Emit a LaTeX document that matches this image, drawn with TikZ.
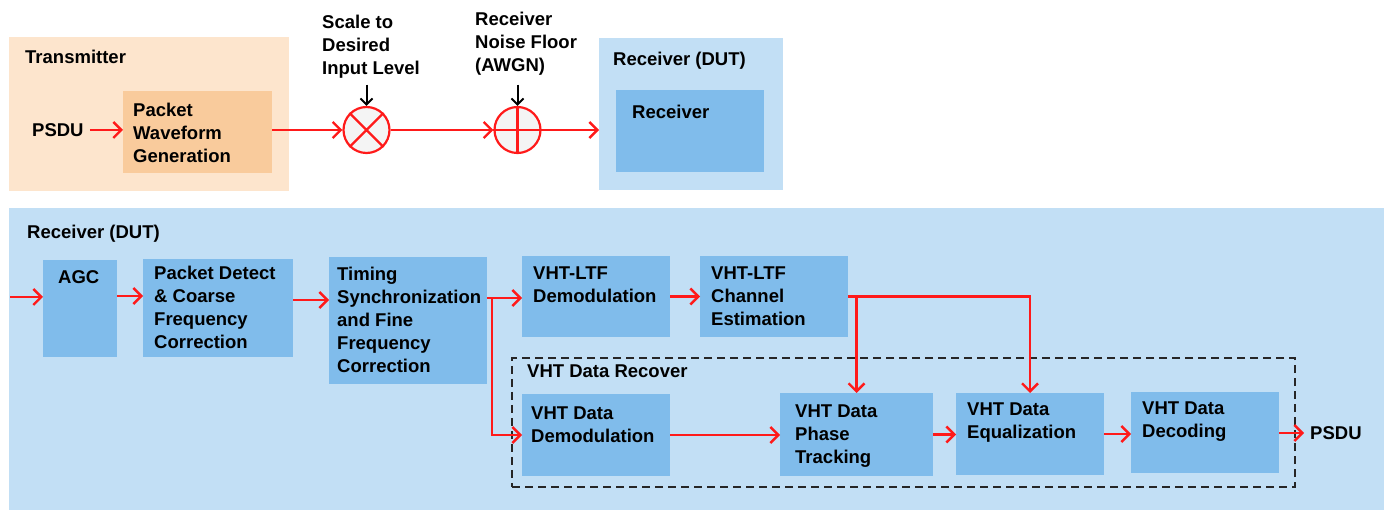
\documentclass[tikz,border=0pt]{standalone}
\usepackage{fontspec}
\setmainfont{Liberation Sans}
\usetikzlibrary{arrows.meta,calc}
\definecolor{Txbg}{HTML}{FDE5CD}
\definecolor{Txblk}{HTML}{F9CB9C}
\definecolor{Rxbg}{HTML}{C2DFF5}
\definecolor{Rxblk}{HTML}{80BCEB}
\definecolor{Sig}{HTML}{FF1A1A}
\definecolor{Mixfill}{HTML}{F4F4F4}
\tikzset{
  area/.style={rectangle, inner sep=0pt, outer sep=0pt, anchor=north west},
  blk/.style={area, fill=Rxblk},
  txt/.style={inner sep=0pt, anchor=north west, align=left, font=\fontsize{18.5}{23}\selectfont\bfseries},
  sig/.style={Sig, line width=2.4pt, -{Straight Barb[length=8pt, width=16pt]}},
  ctl/.style={black, line width=2pt, -{Straight Barb[length=6pt, width=12pt]}},
  mix/.style={circle, draw=Sig, line width=2.2pt, fill=Mixfill, minimum size=46pt, inner sep=0pt},
  recov/.style={area, draw=black!85, line width=2.6pt, dash pattern=on 8pt off 5pt},
}
% name, x0, y0, x1, y1, style
\newcommand{\area}[6]{%
  \node[#6, minimum width={#4-#2}, minimum height={#5-#3}] (#1) at (#2,#3) {};}

\begin{document}
\begin{tikzpicture}[x=1pt, y=-1pt]
  \useasboundingbox (0,0) rectangle (1384,510);
  % top row: transmitter, scaling, noise, receiver
  \area{tx}{9}{37}{289}{191}{area, fill=Txbg}
  \area{pwg}{123}{91}{272}{173}{area, fill=Txblk}
  \area{rxtop}{599}{38}{783}{190}{area, fill=Rxbg}
  \area{rxin}{616}{90}{764}{172}{blk}
  \node[mix] (mul) at (366.5,130) {};
  \node[mix] (add) at (517.5,130) {};
  \draw[Sig, line width=2.2pt] (mul.north west) -- (mul.south east) (mul.north east) -- (mul.south west);
  \draw[Sig, line width=2.2pt] (add.north) -- (add.south) (add.west) -- (add.east);
  \node[txt] (txT) at (25,50) {Transmitter};
  \node[txt] (pwgT) at (133,103) {Packet\\Waveform\\Generation};
  \node[txt] (rxtopT) at (613,52) {Receiver (DUT)};
  \node[txt] (rxinT) at (632,105) {Receiver};
  \node[txt] (scl) at (322,15) {Scale to\\Desired\\Input Level};
  \node[txt] (nse) at (475,12) {Receiver\\Noise Floor\\(AWGN)};
  \node[txt, anchor=west] (psduI) at (32,130) {PSDU};
  \draw[sig, shorten <=6pt] (psduI.east) -- (psduI.east -| pwg.west);
  \draw[sig] (pwg.east |- mul.west) -- (mul.west);
  \draw[sig] (mul.east) -- (add.west);
  \draw[sig] (add.east) -- (add.east -| rxtop.west);
  \draw[ctl, shorten <=6pt] (scl.south -| mul.north) -- (mul.north);
  \draw[ctl, shorten <=9pt] (nse.south -| add.north) -- (add.north);
  % bottom: receiver chain
  \area{rx}{9}{208}{1385}{511}{area, fill=Rxbg}
  \area{agc}{43}{260}{117}{357}{blk}
  \area{pdet}{143}{259}{293}{357}{blk}
  \area{tsync}{329}{257}{487}{384}{blk}
  \area{ltfd}{522}{256}{670}{337}{blk}
  \area{chest}{700}{256}{848}{337}{blk}
  \area{recover}{512}{358}{1295}{487}{recov}
  \area{ddem}{522}{394}{670}{476}{blk}
  \area{ptrk}{780}{393}{933}{476}{blk}
  \area{equ}{956}{393}{1104}{475}{blk}
  \area{dec}{1131}{392}{1279}{473}{blk}
  \node[txt] (rxT) at (27,225) {Receiver (DUT)};
  \node[txt] (agcT) at (58,270) {AGC};
  \node[txt] (pdetT) at (154,266) {Packet Detect\\\& Coarse\\Frequency\\Correction};
  \node[txt] (tsyncT) at (337,267) {Timing\\Synchronization\\and Fine\\Frequency\\Correction};
  \node[txt] (ltfdT) at (533,267) {VHT-LTF\\Demodulation};
  \node[txt] (chestT) at (711,267) {VHT-LTF\\Channel\\Estimation};
  \node[txt] (recT) at (527,365) {VHT Data Recover};
  \node[txt] (ddemT) at (531,407) {VHT Data\\Demodulation};
  \node[txt] (ptrkT) at (795,405) {VHT Data\\Phase\\Tracking};
  \node[txt] (equT) at (967,403) {VHT Data\\Equalization};
  \node[txt] (decT) at (1142,402) {VHT Data\\Decoding};
  \node[txt, anchor=west] (psduO) at (1310,433) {PSDU};
  \coordinate (in) at (10,297);
  \coordinate (br) at (492,298);
  \draw[sig] (in) -- (in -| agc.west);
  \draw[sig] (agc.east |- 0,296) -- (pdet.west |- 0,296);
  \draw[sig] (pdet.east |- 0,300) -- (tsync.west |- 0,300);
  \draw[sig] (tsync.east |- br) -- (br -| ltfd.west);
  \draw[sig] (br) |- (ddem.west);
  \draw[sig] (ltfd.east) -- (chest.west);
  \draw[sig] (chest.east) -| (equ.north);
  \draw[sig] (chest.east -| ptrk.north) -- (ptrk.north);
  \draw[sig] (ddem.east) -- (ptrk.west |- ddem.east);
  \draw[sig] (ptrk.east) -- (equ.west |- ptrk.east);
  \draw[sig] (equ.east) -- (dec.west |- equ.east);
  \draw[sig, shorten >=6pt] (dec.east |- psduO.west) -- (psduO.west);
\end{tikzpicture}
\end{document}
